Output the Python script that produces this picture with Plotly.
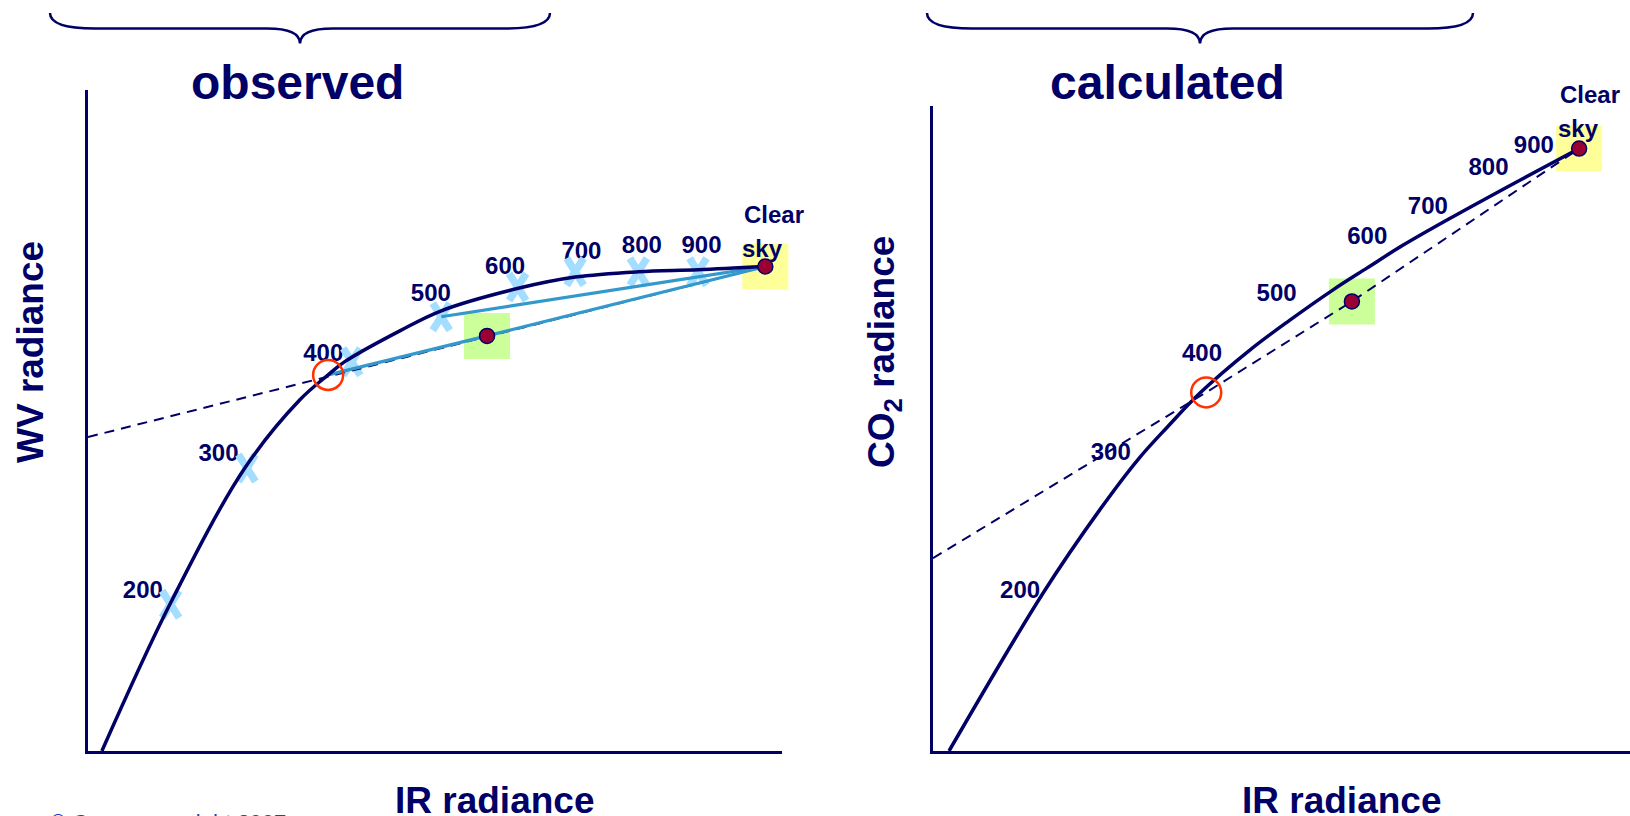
import plotly.graph_objects as go

W, H = 1630, 816
NAVY = "#000066"
LIGHT_X = "#A3DDFF"
STEEL = "#3399CC"
CLOUD_RED = "#990033"
RING = "#FF3300"
GREEN = "#CCFF99"
YELLOW = "#FFFF99"
FONT = "Liberation Sans, Arial, sans-serif"

# pressure levels (hPa) labelled along each curve
levels = ["200", "300", "400", "500", "600", "700", "800", "900"]

# ---- observed panel (IR vs WV radiance, arbitrary units 0-100) ----
obs_curve_x = [2.0, 11.8, 22.6, 30.5, 34.6, 37.0, 45.0, 50.9, 62.0, 70.2, 79.3, 87.9, 97.6]
obs_curve_y = [0.0, 22.2, 42.8, 53.1, 56.9, 58.9, 63.6, 66.6, 70.0, 71.7, 72.5, 72.8, 73.3]
obs_mark_x = [11.9, 22.9, 38.0, 50.9, 61.9, 70.2, 79.3, 87.9]
obs_mark_y = [22.2, 42.8, 58.9, 65.7, 70.2, 72.5, 72.5, 72.5]
obs_label_x = [7.9, 18.8, 33.9, 49.4, 60.1, 71.1, 79.8, 88.4]
obs_label_y = [24.1, 44.8, 59.9, 69.0, 73.0, 75.4, 76.3, 76.3]
obs_clear = (97.6, 73.3)
obs_cloud = (57.5, 62.8)
obs_cross = (34.6, 56.9)
obs_intercept = 47.5

# ---- calculated panel (IR vs CO2 radiance, arbitrary units 0-100) ----
calc_curve_x = [2.3, 15.8, 24.0, 29.5, 33.6, 38.3, 45.5, 51.2, 57.4, 62.3, 67.4, 74.2, 84.2, 92.7]
calc_curve_y = [0.0, 24.5, 37.5, 45.3, 50.2, 55.5, 62.2, 66.8, 71.5, 74.9, 78.4, 82.6, 88.5, 93.4]
calc_label_x = [12.5, 25.5, 38.6, 49.3, 62.3, 71.0, 79.7, 86.2]
calc_label_y = [24.7, 46.0, 61.4, 70.7, 79.5, 84.2, 90.2, 93.6]
calc_clear = (92.7, 93.4)
calc_cloud = (60.1, 69.7)
calc_cross = (39.2, 55.6)
calc_intercept = 29.9

# plot-area pixel boxes (left, right, bottom, top)
OBS_BOX = (88, 782, 751, 90)
CALC_BOX = (933, 1630, 751, 106)

fig = go.Figure()


def add(trace, panel):
    trace.update(xaxis="x" if panel == 1 else "x2", yaxis="y" if panel == 1 else "y2",
                 showlegend=False, hoverinfo="skip", cliponaxis=False)
    fig.add_trace(trace)


# highlight boxes behind the cloudy and clear-sky pixels
for panel, cloud, clear in [(1, obs_cloud, obs_clear), (2, calc_cloud, calc_clear)]:
    add(go.Scatter(x=[cloud[0], clear[0]], y=[cloud[1], clear[1]], mode="markers",
                   marker=dict(symbol="square", size=46, color=[GREEN, YELLOW], line=dict(width=0))),
        panel)

# level labels
label_font = dict(family=FONT, size=24, color=NAVY, weight="bold")
add(go.Scatter(x=obs_label_x, y=obs_label_y, mode="text", text=levels,
               textposition="middle center", textfont=label_font), 1)
add(go.Scatter(x=calc_label_x, y=calc_label_y, mode="text", text=levels,
               textposition="middle center", textfont=label_font), 2)

# observed level crosses: tall "X" strokes, sized in pixels
ux = (OBS_BOX[1] - OBS_BOX[0]) / 100.0
uy = (OBS_BOX[2] - OBS_BOX[3]) / 100.0
hx, hy = 8.5 / ux, 13.5 / uy
cx, cy = [], []
for x, y in zip(obs_mark_x, obs_mark_y):
    cx += [x - hx, x + hx, None, x - hx, x + hx, None]
    cy += [y + hy, y - hy, None, y - hy, y + hy, None]
add(go.Scatter(x=cx, y=cy, mode="lines", line=dict(color=LIGHT_X, width=7.5)), 1)

# dashed cloud lines from the clear-sky point back to the radiance axis
dash = dict(color=NAVY, width=2, dash="10px,7px")
add(go.Scatter(x=[0, obs_clear[0]], y=[obs_intercept, obs_clear[1]], mode="lines", line=dash), 1)
add(go.Scatter(x=[0, calc_cross[0], calc_cloud[0], calc_clear[0]],
               y=[calc_intercept, calc_cross[1], calc_cloud[1], calc_clear[1]],
               mode="lines", line=dash), 2)

# observed cloud lines
steel = dict(color=STEEL, width=3.2)
add(go.Scatter(x=[obs_mark_x[3], obs_clear[0]], y=[obs_mark_y[3], obs_clear[1]], mode="lines", line=steel), 1)
add(go.Scatter(x=[obs_cross[0], obs_cloud[0], obs_clear[0]], y=[obs_cross[1], obs_cloud[1], obs_clear[1]],
               mode="lines", line=steel), 1)

# opaque-cloud curves
curve = dict(color=NAVY, width=3.5, shape="spline", smoothing=1.0)
add(go.Scatter(x=obs_curve_x, y=obs_curve_y, mode="lines", line=curve), 1)
add(go.Scatter(x=calc_curve_x, y=calc_curve_y, mode="lines", line=curve), 2)

# cloud-top intersection rings
for panel, p in [(1, obs_cross), (2, calc_cross)]:
    add(go.Scatter(x=[p[0]], y=[p[1]], mode="markers",
                   marker=dict(symbol="circle-open", size=30, color=RING, line=dict(color=RING, width=2.5))),
        panel)

# measured pixels
for panel, cloud, clear in [(1, obs_cloud, obs_clear), (2, calc_cloud, calc_clear)]:
    add(go.Scatter(x=[cloud[0], clear[0]], y=[cloud[1], clear[1]], mode="markers",
                   marker=dict(symbol="circle", size=15, color=CLOUD_RED, line=dict(color=NAVY, width=1.5))),
        panel)

axis_common = dict(range=[0, 100], showline=True, linecolor=NAVY, linewidth=3, showgrid=False,
                   zeroline=False, showticklabels=False, ticks="", fixedrange=True)


def px(x):
    return x / W


def py(y):
    return 1 - y / H


fig.update_layout(
    width=W, height=H, margin=dict(l=0, r=0, t=0, b=0),
    paper_bgcolor="white", plot_bgcolor="white",
    font=dict(family=FONT, color=NAVY),
    xaxis=dict(domain=[px(OBS_BOX[0]), px(OBS_BOX[1])], anchor="y", **axis_common),
    yaxis=dict(domain=[py(OBS_BOX[2]), py(OBS_BOX[3])], anchor="x", **axis_common),
    xaxis2=dict(domain=[px(CALC_BOX[0]), px(CALC_BOX[1])], anchor="y2", **axis_common),
    yaxis2=dict(domain=[py(CALC_BOX[2]), py(CALC_BOX[3])], anchor="x2", **axis_common),
)


def brace(x0, x1, tip, top=13, mid=28.5, bot=43.5, r=45, rt=33):
    pts = [("M", [(x0, top)]), ("Q", [(x0, mid), (x0 + r, mid)]), ("L", [(tip - rt, mid)]),
           ("Q", [(tip, mid), (tip, bot)]), ("Q", [(tip, mid), (tip + rt, mid)]),
           ("L", [(x1 - r, mid)]), ("Q", [(x1, mid), (x1, top)])]
    return " ".join(cmd + " " + " ".join(f"{px(a):.5f},{py(b):.5f}" for a, b in p) for cmd, p in pts)


for x0, x1, tip in [(50, 550, 300), (927, 1473, 1200)]:
    fig.add_shape(type="path", path=brace(x0, x1, tip), xref="paper", yref="paper",
                  line=dict(color=NAVY, width=2.5))

# "Clear sky" caption placed just above each clear-sky pixel
for ref, pt, shifts in [("", obs_clear, [(9, 52), (-3, 18)]), ("2", calc_clear, [(11, 54), (-1, 20)])]:
    for t, (dx, dy) in zip(["Clear", "sky"], shifts):
        fig.add_annotation(xref="x" + ref, yref="y" + ref, x=pt[0], y=pt[1], text=t, showarrow=False,
                           xanchor="center", yanchor="middle", xshift=dx, yshift=dy, font=label_font)

title_font = dict(family=FONT, size=48, color=NAVY, weight="bold")
axis_font = dict(family=FONT, size=37, color=NAVY, weight="bold")
notes = [
    dict(text="observed", x=px(297), y=py(83), font=title_font),
    dict(text="calculated", x=px(1167), y=py(83), font=title_font),
    dict(text="IR radiance", x=px(494), y=py(800), font=axis_font),
    dict(text="IR radiance", x=px(1341), y=py(800), font=axis_font),
    dict(text="WV radiance", x=px(30), y=py(352), font=axis_font, textangle=-90),
    dict(text="CO<sub>2</sub> radiance", x=px(884), y=py(352), font=axis_font, textangle=-90),
    dict(text="© Crown copyright 2007", x=px(48), y=py(822), xanchor="left",
         font=dict(family=FONT, size=22, color="#2040C0")),
]
for n in notes:
    n.setdefault("xanchor", "center")
    fig.add_annotation(xref="paper", yref="paper", yanchor="middle", showarrow=False, **n)

fig.write_html("out.html", config={"displayModeBar": False})
